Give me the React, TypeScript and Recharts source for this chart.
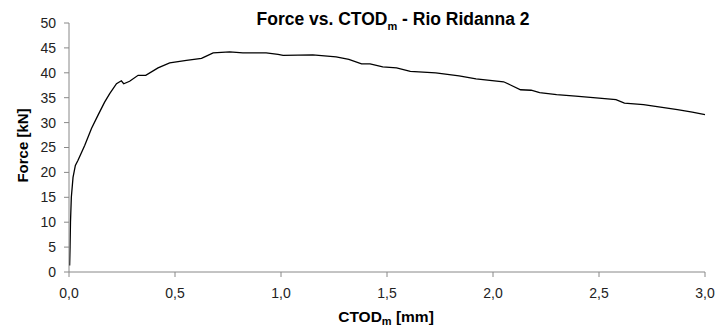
import { LineChart, Line, XAxis, YAxis } from 'recharts'

// CTODm [mm] and force [kN]
const ctod = [
  0.003, 0.005, 0.007, 0.011, 0.019, 0.03, 0.042, 0.074, 0.106, 0.137, 0.168, 0.192, 0.224, 0.247, 0.258,
  0.286, 0.326, 0.362, 0.42, 0.475, 0.554, 0.625, 0.64, 0.68, 0.758, 0.82, 0.93, 0.986, 1.01, 1.15,
  1.26, 1.32, 1.38, 1.42, 1.48, 1.545, 1.61, 1.73, 1.84, 1.92, 2.05, 2.08, 2.13, 2.18, 2.22,
  2.3, 2.39, 2.5, 2.58, 2.62, 2.71, 2.79, 2.87, 2.94, 3.0,
]
const force = [
  1.3, 5, 10, 15, 19, 21.4, 22.4, 25.4, 28.8, 31.5, 34.1, 35.8, 37.8, 38.4, 37.8,
  38.3, 39.5, 39.5, 41.0, 42.0, 42.5, 42.9, 43.2, 44.0, 44.2, 44.0, 44.0, 43.7, 43.5, 43.6,
  43.2, 42.7, 41.8, 41.8, 41.2, 41.0, 40.3, 40.0, 39.4, 38.8, 38.2, 37.6, 36.6, 36.5, 36.0,
  35.6, 35.3, 34.9, 34.6, 33.9, 33.6, 33.1, 32.6, 32.1, 31.6,
]
const xTicks = [0, 0.5, 1, 1.5, 2, 2.5, 3]
const yTicks = [0, 5, 10, 15, 20, 25, 30, 35, 40, 45, 50]

const data = ctod.map((x, i) => ({ x, f: force[i] }))

const FONT = '"Liberation Sans", Arial, sans-serif'
const fmt = (v: number) => v.toFixed(1).replace('.', ',')

type VB = { x: number; y: number; width: number; height: number }

const XLabel = ({ viewBox }: { viewBox?: VB }) => {
  if (!viewBox) return null
  const cx = viewBox.x + viewBox.width / 2 - 1
  return (
    <text x={cx} y={322} textAnchor="middle" fontFamily={FONT} fontWeight="bold" fontSize={15.5} fill="#000">
      <tspan>CTOD</tspan>
      <tspan fontSize={11} dy={3}>m</tspan>
      <tspan dy={-3}> [mm]</tspan>
    </text>
  )
}

const YLabel = ({ viewBox }: { viewBox?: VB }) => {
  if (!viewBox) return null
  const cy = viewBox.y + viewBox.height / 2 - 2
  return (
    <text x={28} y={cy} transform={`rotate(-90, 28, ${cy})`} textAnchor="middle" fontFamily={FONT}
      fontWeight="bold" fontSize={15} fill="#000">
      Force [kN]
    </text>
  )
}

export default function App() {
  const tick = { fontSize: 14, fill: '#222', fontFamily: FONT }
  return (
    <div style={{ position: 'absolute', left: 0, top: 0, width: 727, height: 328, background: '#fff' }}>
      <div style={{ position: 'absolute', left: 193, top: 11, width: 400, textAlign: 'center', fontFamily: FONT,
        fontWeight: 'bold', fontSize: 17.5, lineHeight: '17.5px', color: '#000' }}>
        Force vs. CTOD<sub style={{ fontSize: 11, lineHeight: 0 }}>m</sub> - Rio Ridanna 2
      </div>
      <LineChart width={727} height={328} data={data} margin={{ top: 23, right: 22, left: 0, bottom: 16 }}>
        <XAxis dataKey="x" type="number" domain={[0, 3]} ticks={xTicks} tickFormatter={fmt} interval={0}
          stroke="#888" tickSize={5} tickMargin={11} height={40} tick={tick} label={<XLabel />} />
        <YAxis type="number" domain={[0, 50]} ticks={yTicks} interval={0} stroke="#888" tickSize={5}
          tickMargin={8} width={69} tick={tick} label={<YLabel />} />
        <Line type="linear" dataKey="f" stroke="#000" strokeWidth={1.3} dot={false} isAnimationActive={false} />
      </LineChart>
    </div>
  )
}
